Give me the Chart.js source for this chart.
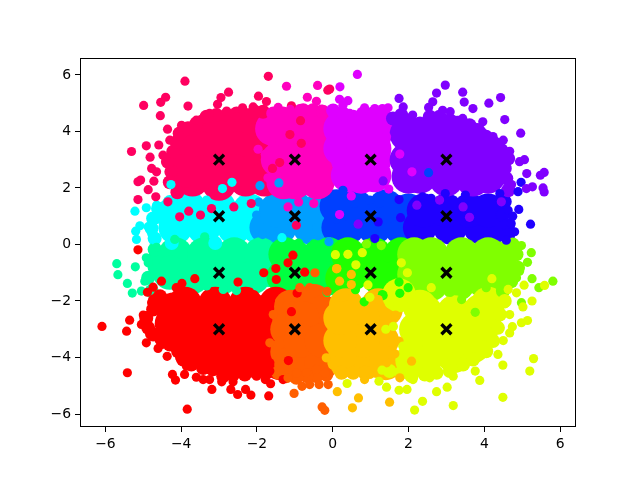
<!DOCTYPE html>
<html><head><meta charset="utf-8">
<style>html,body{margin:0;padding:0;background:#fff}#w{width:640px;height:480px;position:relative}</style>
<script src="https://cdn.jsdelivr.net/npm/chart.js@4"></script></head>
<body><div id="w"><canvas id="c" width="640" height="480"></canvas></div>
<script>
const xTicks=[-6,-4,-2,0,2,4,6];
const yTicks=[-6,-4,-2,0,2,4,6];
const centerPoints=[[-3,3],[-1,3],[1,3],[3,3],[-3,1],[-1,1],[1,1],[3,1],[-3,-1],[-1,-1],[1,-1],[3,-1],[-3,-3],[-1,-3],[1,-3],[3,-3]];

const cyanCore=[[-4.15,0.6],[-3.4,0.6],[-2.6,0.6],[-1.95,0.6],[-3.8,1.3],[-3,1.3],[-2.2,1.2],[-4.2,1.1]];
const azureCore=[[-1.75,0.6],[-1.4,0.6],[-0.6,0.6],[-0.1,0.6],[-1,1.3],[-0.3,1.3],[-1.5,1.2],[0.05,1.2]];
const blue40Core=[[0.15,0.6],[0.4,0.6],[1.1,0.6],[1.8,0.6],[0.1,1.35],[0.6,1.35],[1.4,1.35],[2,1.2]];
const blue20Core=[[2.3,0.6],[3.1,0.6],[3.9,0.6],[4.2,0.6],[2.4,1.2],[3,1.2],[3.6,1.2],[4.1,1.2]];
const springCore=[[-4.15,-0.35],[-3.4,-0.35],[-2.6,-0.35],[-1.9,-0.35],[-4.3,-1],[-3.7,-1.15],[-2.9,-1.15],[-2.1,-1.15],[-1.7,-0.9]];
const green40Core=[[-1.25,-0.35],[-1,-0.45],[-0.4,-0.45],[-0.1,-0.35],[-1.3,-1.15],[-0.9,-1.15],[-0.3,-1.15],[-0.1,-1.2]];
const green20Core=[[0.4,-0.35],[1.1,-0.35],[1.8,-0.35],[0.5,-1.05],[1.2,-1.15],[1.7,-1.15],[0.25,-1.2]];
const limeCore=[[2.15,-0.35],[2.15,-1.05],[2.6,-0.35],[3.4,-0.35],[4.1,-0.35],[4.4,-0.5],[2.6,-1],[3.2,-1.1],[3.9,-1],[2.6,-1.4],[3.3,-1.4],[4,-1.3],[4.4,-0.95]];
const roseCore=[[-3,3],[-3.95,3],[-2.05,3],[-3,3.85],[-3,2.15],[-3.7,3.7],[-2.3,3.7],[-3.7,2.3],[-2.3,2.3],[-2.6,4.1],[-3.3,4.05],[-2,4.1],[-1.75,3.5],[-1.8,2.3],[-3.95,2.6],[-3.5,3],[-3.5,2.7],[-2.5,3],[-2.5,3.4],[-3.45,3.4],[-2.6,2.6],[-3.45,2.55]];
const magentaCore=[[-1.45,3],[-0.8,3],[-0.3,3],[-1,3.9],[-0.4,3.9],[-1.3,3.75],[-1,2.2],[-0.4,2.2],[-1.3,2.2],[-1.6,4.1],[-0.9,4.2],[-0.25,4.2],[-1,3.4],[-0.5,3.4],[-0.9,2.6],[-0.4,2.6]];
const purpleCore=[[0.4,3],[1.1,3],[0.4,3.85],[1.1,3.85],[0.4,2.45],[1.1,2.45],[0.2,4.1],[0.7,4.1],[1.2,4.1],[0.2,3.4],[0.8,3.4],[1.1,3.4],[0.75,2.4],[0.75,3],[0.8,3.8]];
const violetCore=[[1.95,3],[2.6,3],[3.4,3],[4.1,3],[2.3,3.7],[3,4],[3.7,3.7],[2.3,2.4],[3,2.3],[3.7,2.3],[4.1,2.4],[1.95,3.9],[2.6,3.95],[3.3,3.95],[2,2.4],[4.15,3.2],[3,3.3],[3.4,2.6],[2.6,2.6]];
const redCore=[[-3.9,-2.1],[-3.1,-2.1],[-2.3,-2.1],[-1.5,-2.1],[-1.9,-2.4],[-4.25,-2.8],[-3.4,-3],[-2.6,-3],[-1.9,-3.1],[-1.45,-3.5],[-3.6,-3.7],[-2.7,-3.9],[-2,-3.8],[-2.4,-4.1],[-3.2,-4],[-1.7,-4.1],[-3.9,-3.3],[-2.2,-3.5],[-3,-3.5],[-3.7,-2.6],[-3,-2.5],[-2.2,-2.6],[-4.2,-2.3],[-1.5,-2.9],[-1.4,-4.2]];
const orangeCore=[[-1.1,-2.2],[-1.15,-2.6],[-0.5,-2],[-1.2,-3],[-0.5,-3],[-1.2,-3.8],[-0.5,-3.8],[-0.7,-4.2],[-0.25,-2.4],[-1.1,-4.2],[-0.3,-4.2],[-0.8,-2.6],[-0.85,-3.4],[-0.3,-3.4]];
const amberCore=[[0.35,-2.15],[1.2,-2.15],[0.45,-3],[1.2,-3],[0.45,-3.8],[1.2,-3.8],[1.3,-3.4],[0.3,-4.1],[1,-4.1],[1.4,-2.3],[1.4,-4.2],[0.8,-2.6],[0.8,-3.4],[0.2,-3.4],[0.2,-2.6]];
const lemonCore=[[3,-3],[2.45,-2.4],[3.2,-2.4],[3.9,-2.35],[2.45,-3.2],[3.9,-3.2],[2.5,-3.95],[3.2,-3.95],[3.7,-3.6],[2.1,-4.1],[4,-2.8],[2.2,-3],[2.3,-2.2],[2.25,-3.6],[1.75,-1.8],[4.1,-2.1],[3.4,-3.3],[2.8,-3.5],[2.7,-2.7],[3.5,-2.8]];

const cyanEdge=[[-4.7,0.21],[-4.78,0.57],[-4.74,0.92],[-4.61,1.27],[-4.3,1.5],[-4.25,0.05],[-3.1,0.05]];
const azureEdge=[];
const blue40Edge=[];
const blue20Edge=[[4.54,1.51],[4.49,1.04],[4.63,0.68],[4.63,0.33]];
const springEdge=[[-4.78,-1.65],[-4.87,-1.18],[-4.7,-0.82],[-4.7,-0.47],[-4.7,-0.18]];
const green40Edge=[];
const green20Edge=[];
const limeEdge=[[4.85,-0.35],[4.89,-0.82],[4.71,-1.3],[4.49,-1.65],[4.75,0]];
const roseEdge=[[-4.26,2.57],[-4.35,2.93],[-4.21,3.28],[-4.12,3.63],[-4.04,3.93],[-3.82,4.11],[-3.6,4.28],[-3.33,4.52],[-3.07,4.58],[-2.8,4.58],[-2.54,4.64],[-2.28,4.58],[-2.06,4.7],[-1.84,4.7],[-4.3,2.2],[-4.1,1.85]];
const magentaEdge=[[-1.57,4.64],[-1.31,4.64],[-1.05,4.7],[-0.78,4.75],[-0.52,4.75],[-0.26,4.7]];
const purpleEdge=[[0.01,4.74],[0.27,4.64],[0.54,4.52],[0.8,4.64],[1.06,4.64],[1.33,4.64]];
const violetEdge=[[1.59,4.46],[1.81,4.58],[2.03,4.4],[2.3,4.28],[2.56,4.52],[2.82,4.52],[3.09,4.4],[3.35,4.28],[3.61,4.22],[3.83,4.05],[4.05,3.81],[4.27,3.58],[4.45,3.34],[4.63,3.04],[4.54,2.69],[4.58,2.34],[4.63,1.92]];
const redEdge=[[-1.75,-4.54],[-2.01,-4.54],[-2.32,-4.6],[-2.63,-4.6],[-2.89,-4.66],[-3.16,-4.42],[-3.42,-4.37],[-3.73,-4.25],[-3.95,-4.07],[-4.08,-3.78],[-4.3,-3.54],[-4.52,-3.36],[-4.74,-3.19],[-4.87,-2.95],[-4.92,-2.6],[-4.74,-2.3],[-4.7,-2],[-4.56,-1.83]];
const orangeEdge=[[-0.17,-4.6],[-0.43,-4.66],[-0.69,-4.66],[-0.96,-4.72],[-1.22,-4.66],[-1.44,-4.54]];
const amberEdge=[[1.15,-4.48],[0.84,-4.54],[0.54,-4.54],[0.23,-4.54]];
const lemonEdge=[[4.54,-2],[4.41,-2.48],[4.36,-2.95],[4.23,-3.42],[4.05,-3.78],[3.7,-4.07],[3.44,-4.25],[3.09,-4.48],[2.74,-4.54],[2.43,-4.6],[2.08,-4.66],[1.81,-4.54],[1.5,-4.48]];

const cyanDots=[[-5.22,1.18],[-4.92,1.3],[-5.09,0.66],[-5.2,0.47],[-5.18,0.18],[-4.87,0.63],[-4.65,1.39],[-4.04,1.27],[-3.86,1.45],[-3.33,1.57],[-4.78,0.39],[-4.6,0.9],[-4.7,0.15],[-2.91,1.98],[-2.66,2.2],[-4.27,2.12],[-1.34,0.24]];
const azureDots=[[-1.92,2.08],[-1.42,2.18],[-2.01,1.04],[-1.85,0.35],[-0.1,0.1],[-1.95,1.5]];
const blue40Dots=[[0.98,1.57],[0.58,1.45],[1.24,1.45],[0.27,1.92],[2.53,2.54]];
const blue20Dots=[[4.97,2.2],[4.89,1.87],[4.41,1.8],[4.91,1.24],[4.63,1.21],[5.22,0.72],[4.71,0.74],[4.8,0.45],[4.58,0.15],[1.75,1.59],[2.97,1.8],[2.37,1.69],[2.6,1.63],[1.2,0.8],[1.11,0.21],[1.79,0.95],[4.75,1],[3.5,1.75]];
const springDots=[[-5.7,-0.68],[-5.67,-1.07],[-5.21,-0.79],[-5.42,-1.38],[-5.29,-1.72],[-4.87,-0.65],[-4.92,-0.47],[-4.96,-1.3],[-5.05,-1.65],[-2.54,-1.63],[-3.33,-1.47],[-2.89,-1.59],[-2.01,-1.47],[-4.17,0.18],[-3.38,0.27],[-4.65,-0.1],[-4.7,-1]];
const green40Dots=[[-1.3,-0.1],[-0.5,0.02],[-0.15,-1.7],[-0.9,0.05]];
const green20Dots=[[1.75,-1.33],[1.99,-1.53],[1.77,-1.73],[1.31,-1.77],[0.83,-2.03],[1.33,-1.81],[0.25,0.03],[0.6,-1.6]];
const limeDots=[[5.81,-1.3],[5.44,-1.53],[5.26,-1.21],[5.14,-0.63],[5.24,-0.29],[4.98,-0.04],[4.85,-1.18],[4.93,-0.95],[4.76,-0.47],[3.76,-2.4],[4.98,-2.06],[4.05,-1.53],[3.4,-1.95],[0.89,0.02],[1.28,-0.04],[2.7,-1.65],[3.1,-1.7]];
const roseDots=[[-3.9,5.78],[-4.99,4.92],[-4.54,5.03],[-4.41,5.21],[-3.82,4.9],[-4.55,4.56],[-4.36,4.08],[-2.75,5.39],[-2.95,5.2],[-3.04,4.96],[-1.7,5.95],[-1.96,5.25],[-1.75,5.06],[-5.31,3.29],[-4.92,3.49],[-4.59,3.52],[-4.82,3.09],[-5.14,2.22],[-5.07,2.28],[-5.14,1.59],[-4.87,1.94],[-4.67,1.69],[-4.78,2.69],[-4.72,2.24],[-4.35,1.51],[-3.8,1.18],[-2.61,1.33],[-2.15,1.45],[-3.6,4.4],[-3.25,4.64],[-2.8,4.72],[-2.38,4.84],[-2.1,4.87],[-3.99,4.22],[-4.3,3.69],[-4.48,3.16],[-4.65,2.57],[-2.54,4.52],[-0.85,4.38],[-0.83,3.58],[-1.13,3.89],[-1.4,2.9],[-1.59,2.69],[-1.09,4.91],[-0.13,5.46],[-0.08,5.5],[-3.2,1.27],[-4.04,0.98],[-3.49,1.04],[-0.96,0.68]];
const magentaDots=[[-1.22,5.6],[-0.4,5.63],[-0.67,5.21],[-0.43,5.07],[-1.44,4.85],[-1.12,4.78],[-0.87,4.81],[-0.3,4.79],[-1.97,3.37],[-1.78,3.19],[-1.62,3.64],[-1.4,4.46],[-1.71,2.36],[-1.18,1.33],[-0.9,1.5],[-0.5,1.45]];
const purpleDots=[[0.65,6.02],[0.19,5.58],[0.18,5.14],[0.4,5.09],[0.84,4.84],[1.11,4.81],[1.31,4.81],[1.46,4.84],[0.27,4.93],[0.45,4.64],[1.77,3.2],[2.09,2.57],[1.42,3.81],[1.2,3.75],[1.48,1.96],[0.49,1.72],[0.18,1.06]];
const violetDots=[[2.97,5.64],[2.74,5.36],[3.43,5.39],[3.47,5.04],[4.43,5.2],[4.12,5],[2.64,5.05],[2.53,4.85],[3.7,4.81],[4.54,4.42],[4.96,3.94],[1.75,5.17],[4.5,3.69],[4.23,3.82],[3.96,4.34],[4.67,3.3],[5.06,3],[4.93,2.93],[5.12,2.51],[5.58,2.55],[5.48,2.45],[5.55,2],[5.58,1.86],[5.27,2.04],[5.11,1.98],[4.72,2.12],[1.86,4.87],[2.11,4.58],[2.9,4.75],[3.1,4.7],[3.43,4.46],[3.79,4.11],[3.61,0.96],[2.22,1.39],[2.82,1.57],[3.44,1.33],[4.45,1.51],[0.67,0.72],[1.33,2.25]];
const redDots=[[-5.14,-0.19],[-4.89,-1.69],[-4.74,-1.51],[-4.52,-1.3],[-4.13,-1.53],[-3.98,-1.38],[-3.64,-1.21],[-2.5,-1.33],[-1.82,-1],[-1.5,-0.85],[-1.49,-1.24],[-0.74,-0.98],[-1.05,-0.38],[-1.18,-0.65],[-0.94,-1.72],[-1.09,-2.38],[-6.09,-2.9],[-5.44,-3.07],[-5.36,-2.68],[-5,-2.5],[-5.42,-4.54],[-4.92,-3.48],[-4.61,-3.68],[-4.5,-3.54],[-4.37,-3.96],[-4.23,-4.6],[-4.15,-4.8],[-3.84,-5.83],[-3.91,-4.6],[-3.6,-4.7],[-3.42,-4.78],[-3.25,-4.78],[-3.19,-5.13],[-2.93,-4.86],[-2.69,-5.13],[-2.51,-5.31],[-2.63,-4.86],[-2.3,-5.13],[-2.16,-5.33],[-1.69,-5.36],[-1.64,-4.93],[-1.78,-4.78],[-2.01,-4.66],[-1.66,-4.48],[-1.66,-4.19],[-4.78,-2.06],[-5.05,-2.83],[-4.83,-3.19],[-4.04,-4.01],[-3.86,-4.31],[-1.17,-4.11],[-1.31,-4.78]];
const orangeDots=[[-1.02,-5.27],[-0.81,-5.02],[-0.61,-4.96],[-0.36,-4.96],[-0.28,-5.75],[-0.21,-5.87],[-1.18,-4.72],[-0.69,-4.54],[-0.43,-4.42],[-0.12,-4.96],[-1.4,-2],[-1.66,-3.48],[-1.57,-2.48],[-0.87,-1.53],[-0.47,-1],[-0.61,-1.53],[-0.15,-1.66],[-0.95,-4.55],[-0.2,-4.55]];
const amberDots=[[0.12,-5.21],[0.68,-5.43],[0.52,-5.78],[1.5,-5.58],[0.84,-4.78],[0.98,-4.6],[1.42,-4.19],[1.66,-2.5],[1.64,-3.87],[1.75,-3.42],[2.08,-4.13],[1.77,-4.72],[0.27,-4.6],[0.11,-0.85],[0.18,-1.3],[0.49,-1.06],[0.49,-1.42],[-0.17,-4.01],[0.1,-0.86],[1.2,-1.95],[0.3,-1.85]];
const lemonDots=[[5.59,-1.45],[5.05,-1.44],[5.26,-2],[5.02,-2.21],[5.14,-2.69],[4.98,-2.77],[4.74,-2.91],[4.67,-3.13],[5.3,-4.04],[5.2,-4.48],[4.49,-4.27],[4.49,-5.41],[3.88,-4.81],[3.76,-4.48],[3.18,-5.7],[3.02,-5.05],[2.74,-5.21],[2.37,-5.55],[2.16,-5.86],[1.96,-5.13],[1.75,-5.16],[1.42,-5.05],[1.22,-4.84],[4.36,-3.89],[3.18,-4.66],[2.56,-4.72],[2.12,-4.78],[4.67,-2.48],[4.85,-1.71],[4.63,-1.59],[4.2,-1.21],[2.6,-1.53],[1.81,-0.65],[1.97,-1],[0.38,-4.92],[0.4,-0.35],[0.78,-0.29],[0.07,-0.36],[0.61,-0.72],[0.93,-1.43],[0.98,-1.87],[1.6,-2.9],[1.4,-3],[1.85,-3.6],[1.3,-4.45],[4.5,-3.4],[4.55,-2.1],[1.9,-2.2],[1.5,-2.1]];

const coreLists=[cyanCore,azureCore,blue40Core,blue20Core,springCore,green40Core,green20Core,limeCore,roseCore,magentaCore,purpleCore,violetCore,redCore,orangeCore,amberCore,lemonCore];
const edgeLists=[cyanEdge,azureEdge,blue40Edge,blue20Edge,springEdge,green40Edge,green20Edge,limeEdge,roseEdge,magentaEdge,purpleEdge,violetEdge,redEdge,orangeEdge,amberEdge,lemonEdge];
const dotLists=[cyanDots,azureDots,blue40Dots,blue20Dots,springDots,green40Dots,green20Dots,limeDots,roseDots,magentaDots,purpleDots,violetDots,redDots,orangeDots,amberDots,lemonDots];
const colors=['#00ffff','#009fff','#0040ff','#2000ff','#00ff9f','#00ff40','#20ff00','#80ff00','#ff0060','#ff00bf','#df00ff','#8000ff','#ff0000','#ff5f00','#ffbf00','#dfff00'];

const toXY=list=>list.map(p=>({x:p[0],y:p[1]}));
const layers=[];
const addLayer=(lists,r)=>lists.forEach((l,i)=>layers.push({data:toXY(l),pointRadius:r,pointBackgroundColor:colors[i],pointBorderWidth:0,showLine:false}));
addLayer(coreLists,17);
addLayer(edgeLists,7);
addLayer(dotLists,4.6);
layers.push({data:toXY(centerPoints),pointStyle:'crossRot',pointRadius:7,pointBorderColor:'#000',pointBorderWidth:3.4,showLine:false});
const n=layers.length;
layers.forEach((d,i)=>{d.order=n-i;});

const frame={id:'frame',afterDraw(ch){const a=ch.chartArea,c=ch.ctx;c.save();c.strokeStyle='#000';c.lineWidth=1;c.strokeRect(Math.round(a.left)+0.5,Math.round(a.top)+0.5,Math.round(a.right-a.left)-1,Math.round(a.bottom-a.top)-1);c.restore();}};
const fmt=v=>String(v).replace('-','\u2212');
const tickFont={family:'"DejaVu Sans"',size:13.9};
const axis=(min,max,list,fit)=>({type:'linear',min,max,afterBuildTicks:s=>{s.ticks=list.map(v=>({value:v}));},afterFit:fit,
  grid:{drawOnChartArea:false,drawTicks:true,tickLength:5,tickColor:'#000',tickWidth:1},border:{display:false},
  ticks:{color:'#000',font:tickFont,padding:4,maxRotation:0,autoSkip:false,callback:fmt}});
new Chart(document.getElementById('c'),{type:'scatter',data:{datasets:layers},plugins:[frame],options:{responsive:false,animation:false,events:[],
  layout:{padding:{left:0,top:58,right:64,bottom:0}},
  plugins:{legend:{display:false},tooltip:{enabled:false}},
  scales:{x:axis(-6.67,6.42,xTicks,s=>{s.height=53;}),y:axis(-6.46,6.6,yTicks,s=>{s.width=80;})}}});
</script></body></html>
